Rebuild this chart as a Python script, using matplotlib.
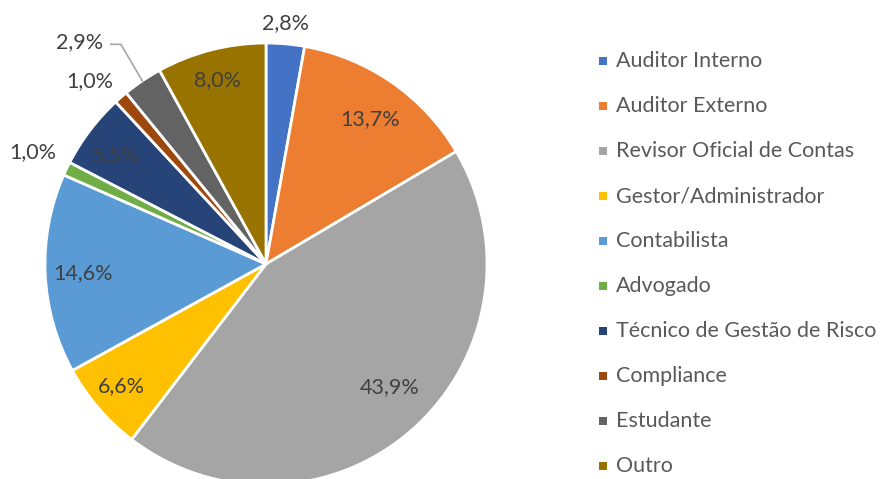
import numpy as np
import matplotlib
matplotlib.use("Agg")
import matplotlib.pyplot as plt

categories = ["Auditor Interno", "Auditor Externo", "Revisor Oficial de Contas",
              "Gestor/Administrador", "Contabilista", "Advogado",
              "Técnico de Gestão de Risco", "Compliance", "Estudante", "Outro"]
values = [2.8, 13.7, 43.9, 6.6, 14.6, 1.0, 5.5, 1.0, 2.9, 8.0]
value_labels = ["2,8%", "13,7%", "43,9%", "6,6%", "14,6%", "1,0%", "5,5%", "1,0%", "2,9%", "8,0%"]
colors = ["#4472C4", "#ED7D31", "#A5A5A5", "#FFC000", "#5B9BD5",
          "#70AD47", "#264478", "#9E480E", "#636363", "#997300"]

# label placement (style): radius fraction and angle offset in degrees
label_r = [1.095, 0.81, 0.79, 0.855, 0.83, 1.17, 0.84, 1.15, 1.31, 0.86]
label_dang = [0.5, -1.0, 3.5, -0.4, 0.3, 0.0, 1.3, 3, 6, 0.3]

plt.rcParams['font.family'] = ['Lato', 'DejaVu Sans']
W, H = 883, 479
fig = plt.figure(figsize=(W / 100, H / 100), dpi=100)
ax = fig.add_axes([0, 0, 1, 1])
cx, cy, R = 266, H - 264, 221

wedges, _ = ax.pie(values, colors=colors, startangle=90, counterclock=False,
                   center=(cx, cy), radius=R, frame=True,
                   wedgeprops=dict(edgecolor="white", linewidth=2.0))
ax.set_xlim(0, W)
ax.set_ylim(0, H)
ax.set_aspect('auto')
ax.axis('off')

fs = 15.5
txtcol = "#404040"
for i, w in enumerate(wedges):
    mid = (w.theta1 + w.theta2) / 2 + label_dang[i]
    a = np.deg2rad(mid)
    x = cx + label_r[i] * R * np.cos(a)
    y = cy + label_r[i] * R * np.sin(a)
    ax.text(x, y, value_labels[i], ha="center", va="center", fontsize=fs, color=txtcol)
    if i == 8:
        am = np.deg2rad((w.theta1 + w.theta2) / 2)
        ex, ey = cx + 1.0 * R * np.cos(am), cy + 1.0 * R * np.sin(am)
        ax.plot([x + 31, x + 41, ex], [y - 2, y - 2, ey], color="#A6A6A6", lw=1.2)

# legend
ly0, dy = H - 61, 45
for i, (c, lab) in enumerate(zip(colors, categories)):
    y = ly0 - i * dy
    ax.scatter([603], [y], marker="s", s=6.2 ** 2, color=c, linewidths=0)
    ax.text(616, y, lab, ha="left", va="center", fontsize=fs, color="#595959")

fig.savefig("out.png", dpi=100)
